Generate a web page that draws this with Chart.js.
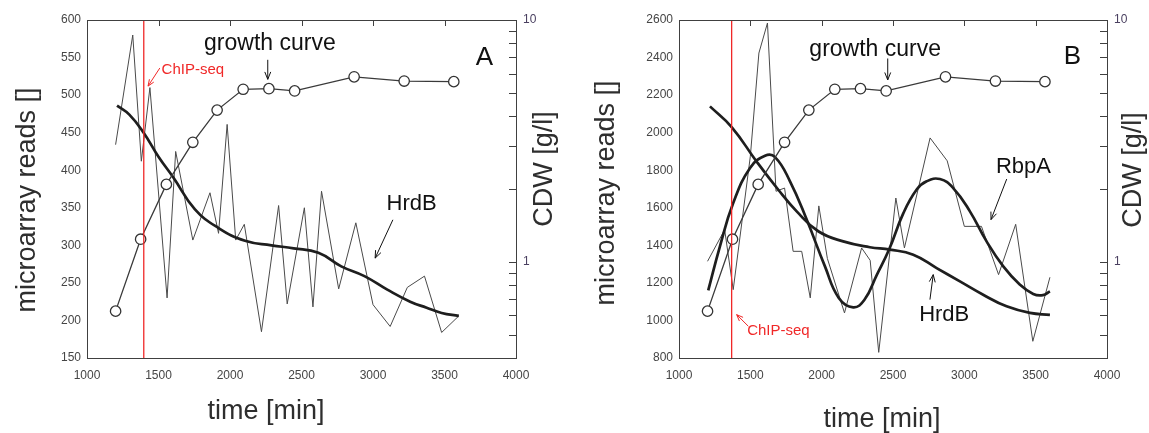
<!DOCTYPE html>
<html><head><meta charset="utf-8">
<script src="https://cdn.jsdelivr.net/npm/chart.js@4/dist/chart.umd.min.js"></script>
<style>
html,body{margin:0;padding:0;background:#fff;}
#wrap{position:relative;width:1149px;height:433px;overflow:hidden;}
canvas{position:absolute;top:0;}
</style></head><body>
<div id="wrap">
<canvas id="cA" width="575" height="433" style="left:0;width:575px;height:433px"></canvas>
<canvas id="cB" width="574" height="433" style="left:575px;width:574px;height:433px"></canvas>
</div>
<script>
// ---------- data ----------
const xTicks = [1000,1500,2000,2500,3000,3500,4000];
const yTicksA = [150,200,250,300,350,400,450,500,550,600];
const yTicksB = [800,1000,1200,1400,1600,1800,2000,2200,2400,2600];
const cdwLabelTicks = [1,10];
const cdwMinorTicks = [0.4,0.5,0.6,0.7,0.8,0.9,1,2,3,4,5,6,7,8,9,10];

const growthTime = [1200,1375,1555,1740,1910,2092,2272,2452,2868,3218,3565];
const growthCDW  = [0.625,1.24,2.09,3.12,4.24,5.17,5.2,5.09,5.82,5.59,5.56];

const rawTimeA = [1200,1320,1380,1440,1560,1620,1740,1860,1920,1980,2040,2100,2220,2340,2400,2520,2580,2640,2760,2880,3000,3120,3240,3360,3480,3600];
const rawHrdBA = [434,580,412,510,230,425,307,370,316,461,307,328,185,353,222,350,218,372,242,330,221,192,244,259,184,206];

const smoothTimeA = [1210,1296,1396,1500,1605,1755,1920,2105,2290,2445,2618,2778,2940,3100,3260,3375,3480,3600];
const smoothHrdBA = [486,474,450,418,390,348,323,306,300,296,290,272,259,241,225,217,210,206];

const rawTimeB = [1200,1320,1380,1500,1560,1620,1680,1740,1800,1860,1920,1980,2040,2160,2280,2340,2400,2520,2580,2760,2880,3000,3120,3240,3360,3480,3600];
const rawRbpAB = [1315,1483,1164,1874,2424,2584,1688,1705,1368,1368,1120,1610,1330,1040,1386,1320,830,1652,1386,1972,1850,1501,1501,1244,1512,889,1230];

const smoothTimeBH = [1217,1369,1545,1696,1825,1976,2151,2338,2479,2642,2806,2969,3132,3296,3460,3600];
const smoothHrdBB  = [2140,2030,1845,1696,1581,1475,1421,1390,1377,1350,1279,1208,1137,1075,1040,1030];

const smoothTimeBR = [1205,1287,1380,1498,1603,1673,1778,1895,2023,2120,2221,2300,2385,2474,2572,2666,2736,2829,2922,3039,3156,3273,3390,3483,3551,3600];
const smoothRbpAB  = [1160,1395,1625,1812,1877,1870,1741,1537,1288,1120,1070,1110,1240,1380,1570,1697,1741,1753,1705,1581,1421,1288,1190,1141,1135,1155];

const chipTimeA = 1397, chipTimeB = 1369;

// ---------- helpers ----------
const FONT = '"Liberation Sans", Arial, sans-serif';
const RED = '#f02828';
const pts = (xs, ys) => xs.map((x,i)=>({x, y: ys[i]}));

const rawStyle = {borderColor:'#4a4a4a', borderWidth:1, pointRadius:0, tension:0, yAxisID:'y', order:4};
const smoothStyle = {borderColor:'#1e1e1e', borderWidth:2.7, pointRadius:0, tension:0.45, yAxisID:'y', order:3};
const growthStyle = {borderColor:'#3a3a3a', borderWidth:1.3, pointRadius:5.2, pointBackgroundColor:'#fff',
  pointBorderColor:'#333', pointBorderWidth:1.3, tension:0, yAxisID:'y2', order:2};

function drawArrow(ctx, x1, y1, x2, y2, color, head) {
  ctx.strokeStyle = color; ctx.lineWidth = 1;
  ctx.beginPath(); ctx.moveTo(x1,y1); ctx.lineTo(x2,y2); ctx.stroke();
  const ang = Math.atan2(y2-y1, x2-x1), L = head || 8, sp = 0.38;
  ctx.beginPath();
  ctx.moveTo(x2 - L*Math.cos(ang-sp), y2 - L*Math.sin(ang-sp));
  ctx.lineTo(x2, y2);
  ctx.lineTo(x2 - L*Math.cos(ang+sp), y2 - L*Math.sin(ang+sp));
  ctx.stroke();
}

const deco = {
  id: 'deco',
  afterDraw(chart, args, o) {
    const {ctx, chartArea: a, scales} = chart;
    const X = scales.x, Y = scales.y, Y2 = scales.y2;
    ctx.save();
    ctx.strokeStyle = '#404040'; ctx.lineWidth = 1;
    ctx.strokeRect(Math.round(a.left)+0.5, Math.round(a.top)+0.5, Math.round(a.right-a.left), Math.round(a.bottom-a.top));
    ctx.beginPath();
    xTicks.forEach(v => { const p = Math.round(X.getPixelForValue(v))+0.5; ctx.moveTo(p, a.top); ctx.lineTo(p, a.top+6); });
    cdwMinorTicks.forEach(v => { const p = Math.round(Y2.getPixelForValue(v))+0.5; ctx.moveTo(a.right, p); ctx.lineTo(a.right-7, p); });
    ctx.stroke();
    ctx.fillStyle = '#2e2e2e';
    ctx.font = '27px ' + FONT;
    ctx.textAlign = 'center'; ctx.textBaseline = 'middle';
    const t = o.titles;
    ctx.fillText('time [min]', t.bx, t.by);
    ctx.save(); ctx.translate(t.lx, t.ly); ctx.rotate(-Math.PI/2); ctx.fillText('microarray reads []', 0, 0); ctx.restore();
    ctx.save(); ctx.translate(t.rx, t.ry); ctx.rotate(-Math.PI/2); ctx.fillText('CDW [g/l]', 0, 0); ctx.restore();
    o.texts.forEach(s => {
      ctx.fillStyle = s.color || '#111';
      ctx.font = s.size + 'px ' + FONT;
      ctx.fillText(s.s, X.getPixelForValue(s.t), Y.getPixelForValue(s.v));
    });
    o.arrows.forEach(r => {
      drawArrow(ctx, X.getPixelForValue(r.t1), Y.getPixelForValue(r.v1),
                X.getPixelForValue(r.t2), Y.getPixelForValue(r.v2), r.color || '#111', r.head);
    });
    ctx.restore();
  }
};

function makeChart(id, p) {
  const tickFont = {family: FONT, size: 12};
  const plain = v => String(v);
  return new Chart(document.getElementById(id), {
    type: 'line',
    data: { datasets: p.datasets },
    options: {
      responsive: false, animation: false, devicePixelRatio: 1, events: [],
      layout: { padding: { top: 20, left: 0, right: 0, bottom: 0 } },
      plugins: { legend: {display:false}, tooltip: {enabled:false}, deco: p.deco },
      scales: {
        x: {
          type: 'linear', min: 1000, max: 4000,
          afterBuildTicks: s => { s.ticks = xTicks.map(v => ({value: v})); },
          ticks: { font: tickFont, color: '#454545', padding: 10, maxRotation: 0, autoSkip: false, callback: plain },
          grid: { display: false, drawTicks: false }, border: { display: false },
          afterFit: s => { s.height = 433 - 358; }
        },
        y: {
          type: 'linear', position: 'left', min: p.yMin, max: p.yMax,
          afterBuildTicks: s => { s.ticks = p.yTicks.map(v => ({value: v})); },
          ticks: { font: tickFont, color: '#454545', padding: 6, autoSkip: false, callback: plain },
          grid: { display: false, drawTicks: false }, border: { display: false },
          afterFit: s => { s.width = p.left; }
        },
        y2: {
          type: 'logarithmic', position: 'right', min: 0.4, max: 10,
          afterBuildTicks: s => { s.ticks = cdwLabelTicks.map(v => ({value: v})); },
          ticks: { font: tickFont, color: '#4a4060', padding: 7, autoSkip: false, callback: plain },
          grid: { display: false, drawTicks: false }, border: { display: false },
          afterFit: s => { s.width = p.W - p.right; }
        }
      }
    },
    plugins: [deco]
  });
}

function chipDataset(t, lo, hi) {
  return { data: [{x: t, y: lo}, {x: t, y: hi}], borderColor: RED, borderWidth: 1.3, pointRadius: 0, yAxisID: 'y', order: 0 };
}

makeChart('cA', {
  W: 575, left: 87, right: 516, yMin: 150, yMax: 600, yTicks: yTicksA,
  datasets: [
    Object.assign({ data: pts(rawTimeA, rawHrdBA) }, rawStyle),
    Object.assign({ data: pts(smoothTimeA, smoothHrdBA) }, smoothStyle),
    Object.assign({ data: pts(growthTime, growthCDW) }, growthStyle),
    chipDataset(chipTimeA, 150, 600)
  ],
  deco: {
    titles: { lx: 28, ly: 200, rx: 545, ry: 169, bx: 266, by: 412 },
    texts: [
      { s: 'growth curve', t: 2279, v: 568, size: 23 },
      { s: 'A', t: 3779, v: 550, size: 26 },
      { s: 'HrdB', t: 3270, v: 355, size: 22 },
      { s: 'ChIP-seq', t: 1740, v: 534, size: 15, color: RED }
    ],
    arrows: [
      { t1: 2264, v1: 547, t2: 2264, v2: 521 },
      { t1: 3139, v1: 334, t2: 3015, v2: 283 },
      { t1: 1509, v1: 536, t2: 1427, v2: 512, color: RED, head: 7 }
    ]
  }
});

makeChart('cB', {
  W: 574, left: 104, right: 532, yMin: 800, yMax: 2600, yTicks: yTicksB,
  datasets: [
    Object.assign({ data: pts(rawTimeB, rawRbpAB) }, rawStyle),
    Object.assign({ data: pts(smoothTimeBH, smoothHrdBB) }, smoothStyle),
    Object.assign({ data: pts(smoothTimeBR, smoothRbpAB) }, smoothStyle),
    Object.assign({ data: pts(growthTime, growthCDW) }, growthStyle),
    chipDataset(chipTimeB, 800, 2600)
  ],
  deco: {
    titles: { lx: 32, ly: 193, rx: 559, ry: 170, bx: 307, by: 420 },
    texts: [
      { s: 'growth curve', t: 2375, v: 2444, size: 23 },
      { s: 'B', t: 3757, v: 2405, size: 26 },
      { s: 'RbpA', t: 3414, v: 1820, size: 22 },
      { s: 'HrdB', t: 2859, v: 1031, size: 22 },
      { s: 'ChIP-seq', t: 1697, v: 943, size: 15, color: RED }
    ],
    arrows: [
      { t1: 2463, v1: 2395, t2: 2463, v2: 2281 },
      { t1: 3297, v1: 1753, t2: 3187, v2: 1537 },
      { t1: 2759, v1: 1111, t2: 2782, v2: 1244 },
      { t1: 1486, v1: 969, t2: 1404, v2: 1031, color: RED, head: 7 }
    ]
  }
});
</script>
</body></html>
